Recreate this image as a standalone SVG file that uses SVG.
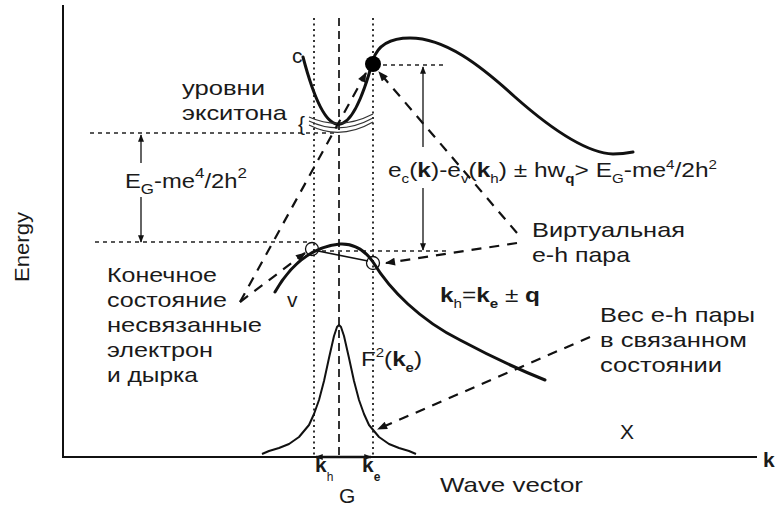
<svg xmlns="http://www.w3.org/2000/svg" width="776" height="508" viewBox="0 0 776 508">
<defs>
<marker id="ah" viewBox="0 0 10 8" refX="9" refY="4" markerWidth="11" markerHeight="8" markerUnits="userSpaceOnUse" orient="auto"><path d="M0,0 L10,4 L0,8 z" fill="#111"/></marker>
<marker id="ahs" viewBox="0 0 10 8" refX="9" refY="4" markerWidth="8" markerHeight="6" markerUnits="userSpaceOnUse" orient="auto"><path d="M0,0 L10,4 L0,8 z" fill="#111"/></marker>
</defs>
<style>
.t{font-family:"Liberation Sans",Arial,sans-serif;font-size:21px;fill:#1a1a1a}
.b{font-weight:bold}
.ax{stroke:#111;stroke-width:2;fill:none}
.vdot{stroke:#333;stroke-width:2;stroke-dasharray:2 3.5;fill:none}
.vdash{stroke:#333;stroke-width:2;stroke-dasharray:8 5;fill:none}
.hdot{stroke:#222;stroke-width:1.3;stroke-dasharray:4 4;fill:none}
.dash{stroke:#111;stroke-width:2.2;stroke-dasharray:10 8;fill:none}
.curve{stroke:#111;stroke-width:3;fill:none;stroke-linecap:round}
.thin{stroke:#111;stroke-width:1.3;fill:none}
.lvl{stroke:#333;stroke-width:1.2;fill:none}
</style>
<rect width="776" height="508" fill="#fff"/>

<g id="axes">
<line class="ax" x1="63" y1="5" x2="63" y2="458"/>
<line class="ax" x1="62" y1="457" x2="757" y2="457"/>
<text class="t b" x="763" y="467" font-size="18">k</text>
<text class="t" x="440" y="492" textLength="143" lengthAdjust="spacingAndGlyphs">Wave vector</text>
<text class="t" transform="translate(29,247) rotate(-90)" text-anchor="middle" font-size="19" textLength="70" lengthAdjust="spacingAndGlyphs">Energy</text>
</g>

<g id="guides">
<line class="vdot" x1="314" y1="18" x2="314" y2="456"/>
<line class="vdot" x1="373" y1="18" x2="373" y2="456"/>
<line class="vdash" x1="339" y1="18" x2="339" y2="456"/>
<line class="hdot" x1="90" y1="133" x2="338" y2="133"/>
<line class="hdot" x1="95" y1="242" x2="310" y2="242"/>
<line class="hdot" x1="322" y1="251" x2="447" y2="251"/>
<line class="hdot" x1="383" y1="65" x2="445" y2="65"/>
</g>

<g id="conduction-band">
<path class="curve" d="M303,57 Q338,190 373,60 C378,44 392,38 410,38 C445,38 480,65 515,97 C550,128 585,153 613,154 C622,154 628,153 633,152"/>
<circle cx="373" cy="64" r="8" fill="#000"/>
<text class="t" x="292" y="63" font-size="20">c</text>
</g>

<g id="exciton-levels">
<path class="lvl" d="M309,117 Q340,131 373,114"/>
<path class="lvl" d="M309,121 Q340,136 373,118"/>
<path class="lvl" d="M309,125 Q340,141 373,122"/>
<text class="t" x="298" y="131" font-size="21" fill="#333">{</text>
<text class="t" x="182" y="95" font-size="22" textLength="83" lengthAdjust="spacingAndGlyphs">уровни</text>
<text class="t" x="182" y="120" font-size="22" textLength="105" lengthAdjust="spacingAndGlyphs">экситона</text>
</g>

<g id="gap">
<line class="thin" x1="141" y1="163" x2="141" y2="135" marker-end="url(#ahs)"/>
<line class="thin" x1="141" y1="197" x2="141" y2="242" marker-end="url(#ahs)"/>
<text class="t" x="125" y="188" font-size="25" textLength="122" lengthAdjust="spacingAndGlyphs">E<tspan font-size="15" dy="6">G</tspan><tspan dy="-6">-me</tspan><tspan font-size="15" dy="-10">4</tspan><tspan dy="10">/2h</tspan><tspan font-size="15" dy="-10">2</tspan></text>
</g>

<g id="transition-energy">
<line class="thin" x1="423" y1="147" x2="423" y2="67" marker-end="url(#ahs)"/>
<line class="thin" x1="423" y1="188" x2="423" y2="250" marker-end="url(#ahs)"/>
<text class="t" x="388" y="177" font-size="19" textLength="329" lengthAdjust="spacingAndGlyphs">e<tspan font-size="13" dy="6">c</tspan><tspan dy="-6">(</tspan><tspan class="b">k</tspan>)-e<tspan font-size="13" dy="6">v</tspan><tspan dy="-6">(</tspan><tspan class="b">k</tspan><tspan font-size="13" dy="6">h</tspan><tspan dy="-6">) ± hw</tspan><tspan font-size="13" dy="6" class="b">q</tspan><tspan dy="-6">&gt; E</tspan><tspan font-size="13" dy="6">G</tspan><tspan dy="-6">-me</tspan><tspan font-size="13" dy="-8">4</tspan><tspan dy="8">/2h</tspan><tspan font-size="13" dy="-8">2</tspan></text>
</g>

<g id="valence-band">
<path class="curve" d="M275,292 Q300,248 340,244 Q360,243 373,262 C390,290 420,320 460,340 C490,356 520,370 545,380"/>
<circle class="thin" cx="312" cy="249" r="6.5"/>
<circle class="thin" cx="373" cy="263" r="6.5"/>
<line stroke="#111" stroke-width="1.6" x1="318" y1="251" x2="368" y2="261"/>
<text class="t" x="287" y="307" font-size="20">v</text>
<text class="t" x="440" y="302" font-size="20" textLength="100" lengthAdjust="spacingAndGlyphs"><tspan class="b">k</tspan><tspan font-size="13" dy="6">h</tspan><tspan dy="-6">=</tspan><tspan class="b">k</tspan><tspan font-size="13" dy="6" class="b">e</tspan><tspan dy="-6"> ± </tspan><tspan class="b">q</tspan></text>
</g>

<g id="envelope">
<polyline fill="none" stroke="#111" stroke-width="2" stroke-linejoin="round" points="262,454 269,451 279,448 289,444 299,437 309,425 314,414 319,400 324,381 329,358 334,336 337,327 339,325 341,327 344,336 349,358 354,381 359,400 364,414 369,425 379,437 389,444 399,448 409,451 416,454"/>
<text class="t" x="361" y="366" textLength="61" lengthAdjust="spacingAndGlyphs">F<tspan font-size="13" dy="-9">2</tspan><tspan dy="9">(</tspan><tspan class="b">k</tspan><tspan font-size="13" dy="6" class="b">e</tspan><tspan dy="-6">)</tspan></text>
<line stroke="#111" stroke-width="2.5" x1="339" y1="457" x2="316" y2="457" marker-end="url(#ahs)"/>
<line stroke="#111" stroke-width="2.5" x1="339" y1="457" x2="371" y2="457" marker-end="url(#ahs)"/>
<text class="t b" x="315" y="472" font-size="17">k<tspan font-size="12" dy="9" font-weight="normal">h</tspan></text>
<text class="t b" x="362" y="472" font-size="17">k<tspan font-size="12" dy="9">e</tspan></text>
<text class="t" x="339" y="503" font-size="17">G</text>
<text class="t" x="620" y="439" font-size="18">X</text>
</g>

<g id="label-final-state">
<text class="t" x="107" y="282" textLength="110" lengthAdjust="spacingAndGlyphs">Конечное</text>
<text class="t" x="107" y="307" textLength="120" lengthAdjust="spacingAndGlyphs">состояние</text>
<text class="t" x="107" y="332" textLength="155" lengthAdjust="spacingAndGlyphs">несвязанные</text>
<text class="t" x="107" y="357" textLength="106" lengthAdjust="spacingAndGlyphs">электрон</text>
<text class="t" x="107" y="382" textLength="91" lengthAdjust="spacingAndGlyphs">и дырка</text>
</g>

<g id="label-virtual-pair">
<text class="t" x="532" y="237" textLength="153" lengthAdjust="spacingAndGlyphs">Виртуальная</text>
<text class="t" x="532" y="262" textLength="98" lengthAdjust="spacingAndGlyphs">e-h пара</text>
</g>

<g id="label-weight">
<text class="t" x="600" y="322" font-size="20" textLength="155" lengthAdjust="spacingAndGlyphs">Вес e-h пары</text>
<text class="t" x="600" y="347" font-size="20" textLength="147" lengthAdjust="spacingAndGlyphs">в связанном</text>
<text class="t" x="600" y="372" font-size="20" textLength="122" lengthAdjust="spacingAndGlyphs">состоянии</text>
</g>

<g id="connectors">
<line class="dash" x1="240" y1="302" x2="366" y2="73" marker-end="url(#ah)"/>
<line class="dash" x1="240" y1="302" x2="305" y2="253" marker-end="url(#ah)"/>
<line class="dash" x1="517" y1="233" x2="379" y2="72" marker-end="url(#ah)"/>
<line class="dash" x1="517" y1="243" x2="386" y2="263" marker-end="url(#ah)"/>
<line class="dash" x1="590" y1="337" x2="378" y2="429" marker-end="url(#ah)"/>
</g>
</svg>
